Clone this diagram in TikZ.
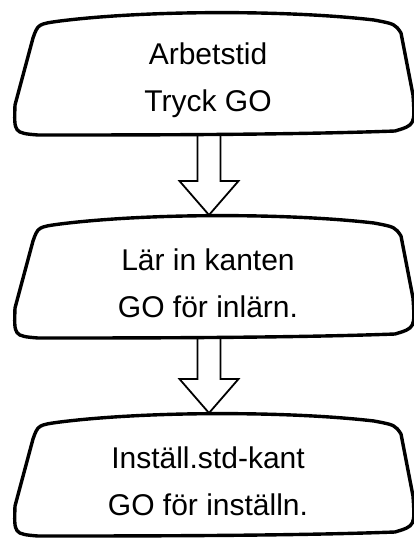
\documentclass[tikz,border=0pt]{standalone}
\usepackage{fontspec}
\setmainfont{Liberation Sans}
\usetikzlibrary{calc}

\begin{document}
\begin{tikzpicture}[x=1pt,y=1pt,
  txt/.style={align=center,inner sep=0pt,font=\fontsize{30}{47}\selectfont},
  rim/.style={line width=3.4pt,line join=round},
  hollow/.style={line width=1.8pt,line join=miter}]
 \useasboundingbox (0,0) rectangle (414,-538);
 \node[txt] (arb) at (208,-80) {Arbetstid\\Tryck GO};
 \node[txt] (lar) at (208,-283) {Lär in kanten\\GO för inlärn.};
 \node[txt] (inst) at (208,-481) {Inställ.std-kant\\GO för inställn.};
 % mirror-like rim round each text, with points for the arrows
 \foreach \n in {arb,lar,inst}{
  \begin{scope}[shift={(\n.center)},yshift=2pt]
   \draw[rim] (-148,57) .. controls (-60,68) and (80,68) .. (166,58)
     .. controls (187,54) .. (193,45) -- (205,-17)
     .. controls (207,-47) .. (187,-53)
     .. controls (80,-57) and (-80,-57) .. (-170,-57)
     .. controls (-194,-55) .. (-193,-27) -- (-175,40)
     .. controls (-170,54) .. (-148,57) -- cycle;
   \coordinate (\n-top) at (1,66);
   \coordinate (\n-bot) at (1,-56);
  \end{scope}}
 \foreach \a/\b in {arb/lar,lar/inst}
  \draw[hollow] ($(\a-bot)+(-11.5,0)$) -- ($(\b-top)+(-11.5,34)$)
    -- ($(\b-top)+(-29.5,34)$) -- (\b-top) -- ($(\b-top)+(29.5,34)$)
    -- ($(\b-top)+(11.5,34)$) -- ($(\a-bot)+(11.5,0)$);
\end{tikzpicture}
\end{document}
